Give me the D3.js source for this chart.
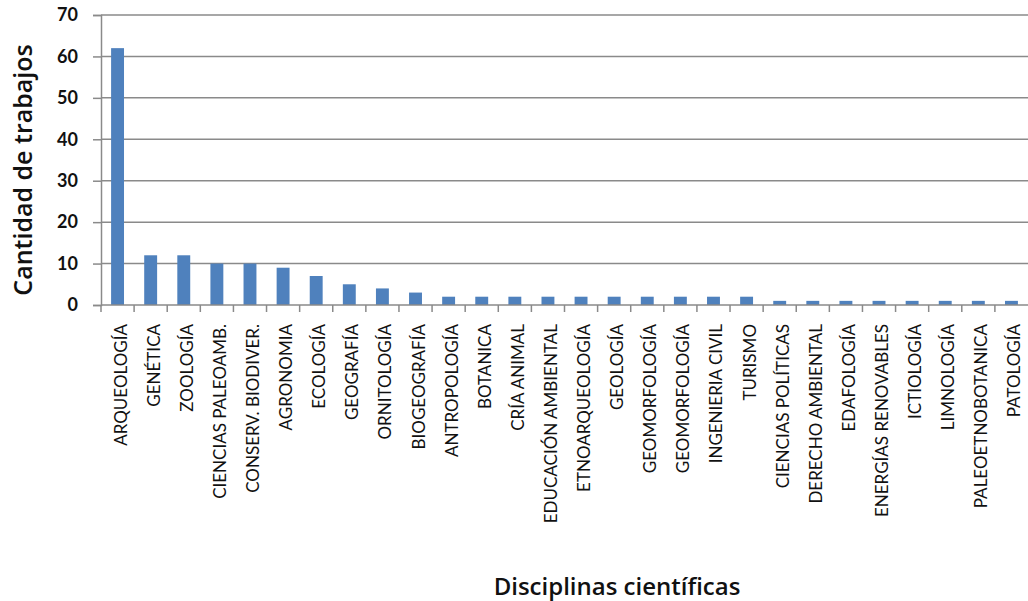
<!DOCTYPE html>
<html>
<head>
<meta charset="utf-8">
<script src="https://cdn.jsdelivr.net/npm/d3@7"></script>
<style>
  body { margin: 0; background: #fff; }
  text { font-family: Lato, "Open Sans", sans-serif; fill: #111; }
</style>
</head>
<body>
<script>
'use strict';

// categories and counts
const disciplinas = [
  "ARQUEOLOGÍA", "GENÉTICA", "ZOOLOGÍA", "CIENCIAS PALEOAMB.", "CONSERV. BIODIVER.",
  "AGRONOMIA", "ECOLOGÍA", "GEOGRAFÍA", "ORNITOLOGÍA", "BIOGEOGRAFÍA",
  "ANTROPOLOGÍA", "BOTANICA", "CRÍA ANIMAL", "EDUCACIÓN AMBIENTAL", "ETNOARQUEOLOGÍA",
  "GEOLOGÍA", "GEOMORFOLOGÍA", "GEOMORFOLOGÍA ", "INGENIERIA CIVIL", "TURISMO",
  "CIENCIAS POLÍTICAS", "DERECHO AMBIENTAL", "EDAFOLOGÍA", "ENERGÍAS RENOVABLES", "ICTIOLOGÍA",
  "LIMNOLOGÍA", "PALEOETNOBOTANICA", "PATOLOGÍA"
];
const trabajos = [62, 12, 12, 10, 10, 9, 7, 5, 4, 3,
  2, 2, 2, 2, 2, 2, 2, 2, 2, 2,
  1, 1, 1, 1, 1, 1, 1, 1];
const yTicks = [0, 10, 20, 30, 40, 50, 60, 70];

(function () {
  const width = 1028, height = 601;
  const mLeft = 101, mRight = 1028, mTop = 15, mBottom = 305;

  const svg = d3.select("body").append("svg")
    .attr("width", width)
    .attr("height", height);

  const x = d3.scaleBand()
    .domain(disciplinas)
    .range([mLeft, mRight])
    .paddingInner(0.61)
    .paddingOuter(0.305);

  // same bands without padding, for tick marks at the boundaries
  const xTicks = d3.scaleBand().domain(disciplinas).range([mLeft, mRight]);

  const y = d3.scaleLinear()
    .domain([0, 70])
    .range([mBottom, mTop]);

  // gridlines
  svg.append("g")
    .selectAll("line")
    .data(yTicks.filter(d => d > 0))
    .enter().append("line")
    .attr("x1", mLeft).attr("x2", mRight)
    .attr("y1", d => y(d)).attr("y2", d => y(d))
    .attr("stroke", "#8a8a8a")
    .attr("stroke-width", 1.5);

  // y axis
  const yAxis = svg.append("g")
    .attr("transform", "translate(" + mLeft + ",0)")
    .call(d3.axisLeft(y).tickValues(yTicks).tickSize(8).tickPadding(15));
  yAxis.select(".domain").attr("stroke", "#8a8a8a").attr("stroke-width", 1.5);
  yAxis.selectAll(".tick line").attr("stroke", "#8a8a8a").attr("stroke-width", 1.5);
  yAxis.selectAll("text")
    .style("font-size", "18px")
    .style("font-weight", "bold")
    .style("font-family", "Lato, sans-serif")
    .attr("fill", "#222");

  // bars
  svg.append("g")
    .selectAll("rect")
    .data(trabajos)
    .enter().append("rect")
    .attr("x", (d, i) => x(disciplinas[i]))
    .attr("y", d => y(d))
    .attr("width", x.bandwidth())
    .attr("height", d => y(0) - y(d))
    .attr("fill", "#4f81bd");

  // x axis: ticks at band boundaries
  const xg = svg.append("g");
  xg.append("line")
    .attr("x1", mLeft).attr("x2", mRight)
    .attr("y1", mBottom).attr("y2", mBottom)
    .attr("stroke", "#8a8a8a").attr("stroke-width", 1.5);
  xg.selectAll(".bt")
    .data(disciplinas)
    .enter().append("line")
    .attr("class", "bt")
    .attr("x1", d => xTicks(d)).attr("x2", d => xTicks(d))
    .attr("y1", mBottom).attr("y2", mBottom + 7)
    .attr("stroke", "#8a8a8a").attr("stroke-width", 1.5);

  // rotated category labels
  xg.selectAll(".lbl")
    .data(disciplinas)
    .enter().append("text")
    .attr("class", "lbl")
    .attr("transform", d => "translate(" + (x(d) + x.bandwidth() / 2 + 9) + "," + (mBottom + 19) + ") rotate(-90)")
    .attr("text-anchor", "end")
    .style("font-size", "17px")
    .text(d => d.trim());

  // axis titles
  svg.append("text")
    .attr("transform", "translate(32,170) rotate(-90)")
    .attr("text-anchor", "middle")
    .style("font-family", "'Open Sans', sans-serif")
    .style("font-size", "25px")
    .style("font-weight", "600")
    .text("Cantidad de trabajos");

  svg.append("text")
    .attr("x", 617)
    .attr("y", 595)
    .attr("text-anchor", "middle")
    .style("font-family", "'Open Sans', sans-serif")
    .style("font-size", "24px")
    .style("font-weight", "600")
    .text("Disciplinas científicas");
})();
</script>
</body>
</html>
